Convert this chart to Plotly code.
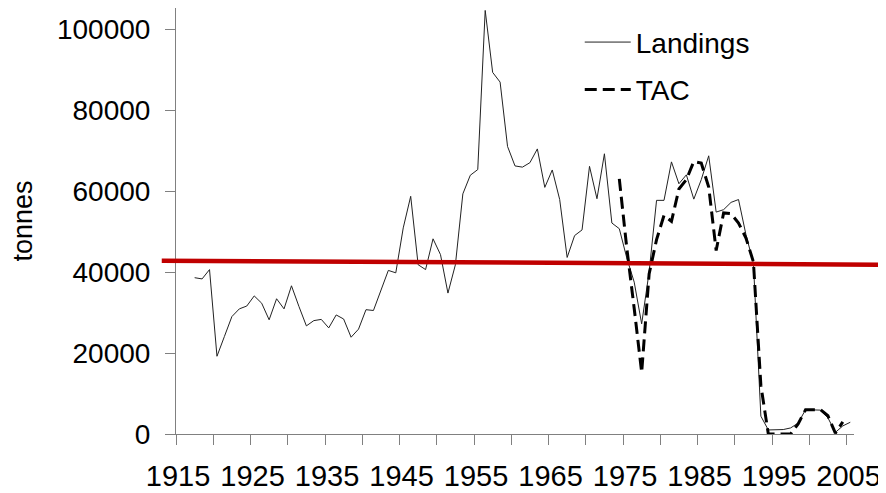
import plotly.graph_objects as go

# ---------------- data ----------------
landing_years = list(range(1917, 2006))
landings = [
    38600, 38300, 40600, 19200, 24100, 29000, 30900, 31600, 34100, 32300,   # 1917-1926
    28200, 33400, 30900, 36600, 31500, 26700, 28000, 28300, 26200, 29400,   # 1927-1936
    28400, 23900, 25900, 30700, 30500, 35500, 40400, 39800, 50900, 58700,   # 1937-1946
    41800, 40600, 48200, 44300, 34800, 41800, 59300, 63900, 65300, 104600,  # 1947-1956
    89300, 86900, 71000, 66200, 65900, 67000, 70400, 60900, 65200, 57900,   # 1957-1966
    43600, 49000, 50400, 66100, 58100, 69200, 52100, 50700, 43500, 37500,   # 1967-1976
    27200, 40000, 57700, 57700, 67200, 61800, 64000, 58000, 62800, 68700,   # 1977-1986
    54800, 55400, 57200, 57900, 49200, 42200, 4400, 1000, 1100, 1100,       # 1987-1996
    1500, 2700, 6000, 6000, 5900, 4000, 400, 2000, 2900,                    # 1997-2005
]

tac_years = list(range(1974, 2005))
tac = [
    63000, 46000, 31000, 15200, 39500, 48000, 54000, 52500, 60500, 62800,   # 1974-1983
    67300, 66900, 61000, 45300, 54600, 54400, 52100, 48400, 42500, 12000,   # 1984-1993
    0, 0, 0, 0, 2500, 6000, 6000, 6000, 4500, 200, 3000,                    # 1994-2004
]

reference_level = [42800, 41800]   # red reference line (left end, right end)

label_years = list(range(1915, 2006, 10))
tick_years = list(range(1915, 2006, 5))
y_ticks = [0, 20000, 40000, 60000, 80000, 100000]

# ---------------- figure ----------------
FONT = "Liberation Sans, Arial, sans-serif"
AXIS_GREY = "#808080"

fig = go.Figure()
fig.add_trace(go.Scatter(
    x=landing_years, y=landings, mode="lines", name="Landings",
    line=dict(color="#222222", width=1), legendgroup="a",
))
fig.add_trace(go.Scatter(
    x=tac_years, y=tac, mode="lines", name="TAC",
    line=dict(color="#000000", width=3, dash="12px,6px"), legendgroup="b",
))

fig.add_shape(
    type="line", xref="paper", yref="y",
    x0=-0.021, x1=1.05, y0=reference_level[0], y1=reference_level[1],
    line=dict(color="#C00000", width=4.5), layer="above",
)

tick_pos = [t - 0.5 for t in tick_years]
tick_txt = [str(t) if t in label_years else "" for t in tick_years]

# the page body has an 8px margin: the figure is sized/placed to compensate
fig.update_layout(
    width=878, height=485,
    margin=dict(l=168, r=32, t=0, b=59, autoexpand=False),
    paper_bgcolor="white", plot_bgcolor="white",
    font=dict(family=FONT, color="black", size=26),
    showlegend=True,
    legend=dict(
        x=0.5955, y=0.978, xanchor="left", yanchor="top",
        bgcolor="rgba(0,0,0,0)", font=dict(size=28),
        tracegroupgap=8, itemwidth=46,
    ),
    xaxis=dict(
        range=[1914.5, 2005.5], showgrid=False, zeroline=False,
        showline=True, linecolor=AXIS_GREY, linewidth=1, automargin=False,
        tickmode="array", tickvals=tick_pos, ticktext=tick_txt,
        ticks="outside", ticklen=10, tickcolor=AXIS_GREY, tickwidth=1,
        ticklabelshift=2, ticklabelstandoff=6,
        tickfont=dict(size=29),
    ),
    yaxis=dict(
        range=[0, 105200], showgrid=False, zeroline=False,
        showline=True, linecolor=AXIS_GREY, linewidth=1, automargin=False,
        tickmode="array", tickvals=y_ticks, ticktext=[str(v) for v in y_ticks],
        ticks="outside", ticklen=10, tickcolor=AXIS_GREY, tickwidth=1,
        ticklabelstandoff=9,
        tickfont=dict(size=28),
        title=dict(text="tonnes", font=dict(size=27), standoff=20),
    ),
)

fig.write_html("out.html")
